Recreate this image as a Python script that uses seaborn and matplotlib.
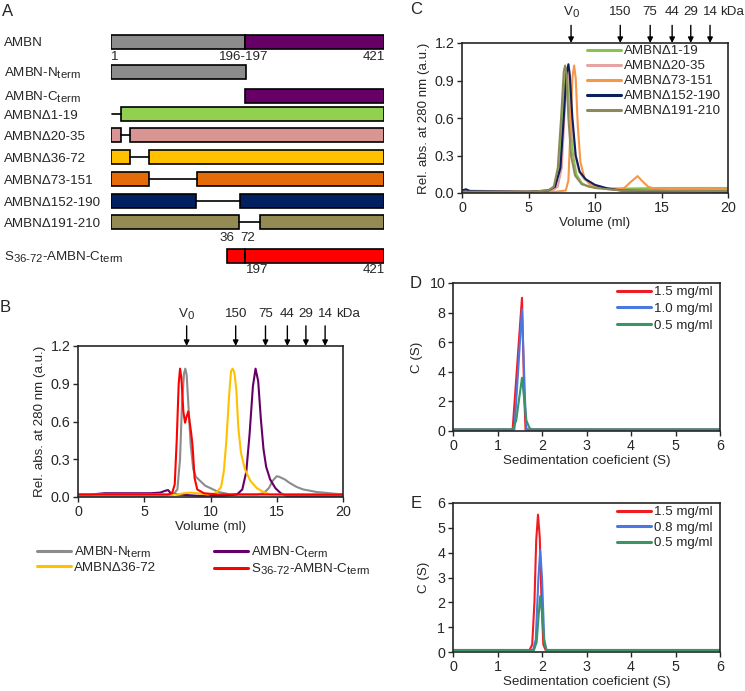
import numpy as np
import pandas as pd
import matplotlib
matplotlib.use("Agg")
import matplotlib.pyplot as plt
import matplotlib._mathtext as mathtext_internal
import seaborn as sns
from matplotlib.lines import Line2D
from matplotlib.transforms import blended_transform_factory

# subscripts in the original are only slightly smaller than the main text
mathtext_internal.SHRINK_FACTOR = 0.85

sns.set_theme(style="ticks")
FS = 9.6
TS = 10.3
plt.rcParams["font.family"] = ["Liberation Sans", "DejaVu Sans"]
plt.rcParams["mathtext.fontset"] = "custom"
plt.rcParams["mathtext.rm"] = "Liberation Sans"
plt.rcParams["mathtext.it"] = "Liberation Sans"
plt.rcParams["font.size"] = FS
plt.rcParams["axes.labelsize"] = FS
plt.rcParams["legend.fontsize"] = FS
plt.rcParams["xtick.labelsize"] = TS
plt.rcParams["ytick.labelsize"] = TS
plt.rcParams["axes.linewidth"] = 1.2
plt.rcParams["xtick.major.size"] = 3.5
plt.rcParams["ytick.major.size"] = 3.5
plt.rcParams["xtick.major.width"] = 1.0
plt.rcParams["ytick.major.width"] = 1.0
plt.rcParams["xtick.major.pad"] = 2
plt.rcParams["ytick.major.pad"] = 2

# ---------------- panel A: constructs (residue positions as drawn) -------------
a_labels = ["AMBN", "AMBN-N$_{\\rm term}$", "AMBN-C$_{\\rm term}$", "AMBNΔ1-19",
            "AMBNΔ20-35", "AMBNΔ36-72", "AMBNΔ73-151", "AMBNΔ152-190",
            "AMBNΔ191-210", "S$_{\\rm 36\\text{-}72}$-AMBN-C$_{\\rm term}$"]
a_bar_start = [[1, 207], [1], [207], [16], [1, 30], [1, 59.5], [1, 134], [1, 199.5], [1, 230], [179, 207]]
a_bar_end = [[207, 421], [208], [421], [421], [16, 421], [30, 421], [59, 421], [132, 421], [198, 421], [207, 421]]
a_gap = [None, None, None, (2, 16), (16, 30), (30, 59.5), (59, 134), (132, 199.5), (198, 230), None]
a_colors = ["#8c8c8c", "#8c8c8c", "#660066", "#92d050", "#d99594", "#ffc000",
            "#e36c09", "#002060", "#948a54", "#ff0000"]
gray_purple = ["#8c8c8c", "#660066"]

# ---------------- panel B: SEC traces ------------------------------------------
b_gray_v = [0, 2, 5, 6.5, 7.2, 7.5, 7.7, 7.85, 8.0, 8.1, 8.2, 8.35, 8.5, 8.7, 8.9, 9.2, 9.6, 10.0,
            10.6, 11.5, 12.5, 13.5, 14.0, 14.4, 14.7, 15.0, 15.2, 15.6, 16.0, 16.5, 17.0, 18.0, 19.0, 20]
b_gray_a = [0.01, 0.01, 0.01, 0.01, 0.02, 0.06, 0.3, 0.75, 0.98, 1.02, 0.97, 0.7, 0.42, 0.22, 0.16, 0.13,
            0.09, 0.07, 0.04, 0.02, 0.02, 0.02, 0.03, 0.07, 0.13, 0.165, 0.16, 0.14, 0.11, 0.08, 0.06, 0.04, 0.03, 0.02]
b_purple_v = [0, 1, 2, 3, 4.5, 5.5, 6.2, 6.6, 6.8, 7.0, 7.5, 9, 11, 12.0, 12.4, 12.7, 12.95, 13.2, 13.4,
              13.6, 13.8, 14.0, 14.2, 14.5, 14.9, 15.3, 15.7, 20]
b_purple_a = [0.02, 0.02, 0.03, 0.03, 0.03, 0.03, 0.035, 0.05, 0.055, 0.03, 0.02, 0.01, 0.01, 0.02, 0.06,
              0.2, 0.5, 0.88, 1.02, 0.92, 0.62, 0.38, 0.24, 0.14, 0.07, 0.03, 0.01, 0.01]
b_yellow_v = [0, 6, 7.5, 8.0, 8.5, 9.0, 9.8, 10.4, 10.8, 11.0, 11.2, 11.4, 11.55, 11.67, 11.8, 11.95,
              12.1, 12.3, 12.6, 13.0, 13.5, 14.0, 14.5, 20]
b_yellow_a = [0.02, 0.02, 0.02, 0.03, 0.035, 0.03, 0.02, 0.03, 0.08, 0.2, 0.45, 0.8, 1.0, 1.02, 0.99,
              0.85, 0.55, 0.35, 0.22, 0.13, 0.07, 0.04, 0.02, 0.02]
b_red_v = [0, 5, 6.8, 7.1, 7.3, 7.45, 7.6, 7.7, 7.8, 7.95, 8.08, 8.2, 8.32, 8.42, 8.55, 8.65, 8.8, 9.0,
           9.5, 10.5, 20]
b_red_a = [0.02, 0.02, 0.02, 0.03, 0.1, 0.45, 0.9, 1.02, 0.95, 0.68, 0.59, 0.64, 0.68, 0.6, 0.5, 0.4,
           0.15, 0.06, 0.03, 0.02, 0.02]
b_names = ["AMBN-N$_{\\rm term}$", "AMBN-C$_{\\rm term}$", "AMBNΔ36-72",
           "S$_{\\rm 36\\text{-}72}$-AMBN-C$_{\\rm term}$"]
b_colors = ["#8c8c8c", "#660066", "#ffc000", "#ff0000"]

# ---------------- panel C: SEC traces of deletion mutants -----------------------
c_green_v = [0, 5, 6.5, 7.0, 7.3, 7.55, 7.75, 7.85, 7.95, 8.15, 8.35, 8.6, 9.0, 9.5, 10.5, 12, 15, 20]
c_green_a = [0.01, 0.01, 0.02, 0.06, 0.2, 0.6, 0.95, 1.0, 0.95, 0.6, 0.3, 0.15, 0.08, 0.05, 0.04, 0.035, 0.04, 0.04]
c_pink_v = [0, 5, 6.8, 7.2, 7.5, 7.7, 7.85, 7.95, 8.05, 8.25, 8.5, 8.8, 9.2, 10, 11, 12, 20]
c_pink_a = [0.02, 0.01, 0.02, 0.05, 0.2, 0.6, 0.92, 1.0, 0.93, 0.6, 0.3, 0.17, 0.11, 0.06, 0.03, 0.02, 0.02]
c_orange_v = [0, 5, 7.0, 7.8, 8.0, 8.15, 8.3, 8.43, 8.55, 8.7, 8.9, 9.2, 9.6, 10.5, 11.5, 12.2, 12.6,
              13.2, 13.6, 14.0, 14.5, 20]
c_orange_a = [0.01, 0.01, 0.01, 0.02, 0.1, 0.5, 0.92, 1.02, 0.92, 0.55, 0.25, 0.12, 0.07, 0.04, 0.03,
              0.04, 0.08, 0.135, 0.09, 0.05, 0.035, 0.03]
c_navy_v = [0, 0.3, 0.6, 5, 6.5, 7.0, 7.4, 7.65, 7.85, 8.0, 8.1, 8.3, 8.55, 8.85, 9.3, 10, 11, 12, 20]
c_navy_a = [0.02, 0.03, 0.015, 0.01, 0.02, 0.05, 0.2, 0.6, 0.95, 1.03, 0.95, 0.6, 0.3, 0.17, 0.11,
            0.065, 0.035, 0.02, 0.01]
c_olive_v = [0, 5, 6.5, 6.9, 7.2, 7.45, 7.65, 7.75, 7.85, 8.0, 8.2, 8.5, 9.0, 10, 12, 20]
c_olive_a = [0.01, 0.01, 0.02, 0.05, 0.2, 0.6, 0.97, 1.02, 0.95, 0.6, 0.3, 0.14, 0.07, 0.04, 0.02, 0.015]
c_names = ["AMBNΔ1-19", "AMBNΔ20-35", "AMBNΔ73-151", "AMBNΔ152-190", "AMBNΔ191-210"]
c_colors = ["#8cc152", "#e6a3a3", "#f79646", "#0d1f5c", "#8c8a5c"]

# standards (elution volume, label)
std_vol = [8.2, 11.9, 14.15, 15.8, 17.2, 18.65]
std_lab = ["V$_0$", "150", "75", "44", "29", "14"]

# ---------------- panels D, E: sedimentation velocity ----------------------------
d_names = ["1.5 mg/ml", "1.0 mg/ml", "0.5 mg/ml"]
d_red_s = [0, 1.34, 1.55, 1.6, 1.63, 6]
d_red_c = [0.1, 0.1, 9.0, 2.5, 0.1, 0.1]
d_blue_s = [0, 1.38, 1.55, 1.62, 1.65, 6]
d_blue_c = [0.1, 0.1, 8.2, 2.0, 0.1, 0.1]
d_green_s = [0, 1.34, 1.42, 1.55, 1.65, 1.72, 1.78, 6]
d_green_c = [0.1, 0.1, 0.7, 3.6, 0.7, 0.2, 0.1, 0.1]

e_names = ["1.5 mg/ml", "0.8 mg/ml", "0.5 mg/ml"]
e_red_s = [0, 1.72, 1.78, 1.83, 1.87, 1.91, 1.95, 1.99, 2.03, 2.08, 6]
e_red_c = [0.08, 0.08, 0.3, 2.0, 4.5, 5.53, 4.6, 2.0, 0.3, 0.08, 0.08]
e_blue_s = [0, 1.8, 1.86, 1.92, 1.96, 2.0, 2.05, 2.1, 6]
e_blue_c = [0.08, 0.08, 0.5, 3.0, 4.1, 3.0, 0.5, 0.08, 0.08]
e_green_s = [0, 1.82, 1.88, 1.93, 1.96, 2.0, 2.05, 2.1, 6]
e_green_c = [0.08, 0.08, 0.4, 1.6, 2.25, 1.6, 0.4, 0.08, 0.08]
de_colors = ["#f01c24", "#4a78e0", "#3a9466"]

LW = 1.5
W, H = 745, 691
fig = plt.figure(figsize=(W / 100, H / 100), dpi=100)


def px_axes(x0, y0, x1, y1):
    return fig.add_axes([x0 / W, 1 - y1 / H, (x1 - x0) / W, (y1 - y0) / H])


def panel_letter(x, y, s):
    fig.text(x / W, 1 - y / H, s, fontsize=12, ha="center", va="center")


# ---- A ----
axA = px_axes(111, 0, 384, 280)
axA.set_xlim(1, 421)
axA.set_ylim(280, 0)
axA.axis("off")
rows = [41.5, 72, 96, 114, 135, 157, 179, 201, 222, 256]
lab_tr = blended_transform_factory(fig.transFigure, axA.transData)
for i, lab in enumerate(a_labels):
    y = rows[i]
    for j, (s, e) in enumerate(zip(a_bar_start[i], a_bar_end[i])):
        col = gray_purple[j] if i == 0 else a_colors[i]
        axA.barh(y, e - s, left=s, height=14, color=col, edgecolor="black", linewidth=1.2)
    if a_gap[i] is not None:
        axA.plot(a_gap[i], [y, y], color="black", lw=1.2)
    # baseline placed so the capitals sit centred on the bar
    axA.text(4 / W, y + 4.8, lab, transform=lab_tr, ha="left", va="baseline")
axA.text(1, 57, "1", ha="left", va="center")
axA.text(205, 57, "196-197", ha="center", va="center")
axA.text(422, 57, "421", ha="right", va="center")
axA.text(179, 238, "36", ha="center", va="center")
axA.text(211, 238, "72", ha="center", va="center")
axA.text(208, 270, "197", ha="left", va="center")
axA.text(422, 270, "421", ha="right", va="center")
panel_letter(8, 12, "A")


def sec_axes(ax, arrow_len, lab_off, kda_off):
    ax.set_xlim(0, 20)
    ax.set_ylim(0, 1.2)
    ax.set_xticks([0, 5, 10, 15, 20])
    ax.set_yticks([0, 0.3, 0.6, 0.9, 1.2])
    ax.set_yticklabels(["0.0", "0.3", "0.6", "0.9", "1.2"])
    ax.set_xlabel("Volume (ml)", labelpad=2)
    ax.set_ylabel("Rel. abs. at 280 nm (a.u.)", labelpad=3)
    tr = ax.get_xaxis_transform()
    for v, lab in zip(std_vol, std_lab):
        ax.annotate("", xy=(v, 1), xycoords=tr, xytext=(0, arrow_len), textcoords="offset points",
                    arrowprops=dict(arrowstyle="-|>", color="black", lw=1, shrinkA=0, shrinkB=0,
                                    mutation_scale=8), annotation_clip=False)
        ax.annotate(lab, xy=(v, 1), xycoords=tr, xytext=(0, lab_off), textcoords="offset points",
                    ha="center", va="center", annotation_clip=False)
    ax.annotate("kDa", xy=(std_vol[-1], 1), xycoords=tr, xytext=(kda_off, lab_off),
                textcoords="offset points", ha="left", va="center", annotation_clip=False)


# ---- B ----
axB = px_axes(78, 346, 343, 497)
b_data = [(b_gray_v, b_gray_a), (b_purple_v, b_purple_a), (b_yellow_v, b_yellow_a), (b_red_v, b_red_a)]
for (v, a), name, col in zip(b_data, b_names, b_colors):
    df = pd.DataFrame({"vol": v, "abs": a})
    sns.lineplot(data=df, x="vol", y="abs", ax=axB, color=col, lw=LW, sort=False, estimator=None)
sec_axes(axB, 14.5, 23, 8)
panel_letter(5, 307, "B")
hB = [Line2D([], [], color=c, lw=2.2) for c in b_colors]
order = [0, 2, 1, 3]
fig.legend([hB[k] for k in order], [b_names[k] for k in order], ncol=2, frameon=False,
           loc="upper left", bbox_to_anchor=(37 / W, 1 - 545 / H), handlelength=2.55,
           handletextpad=0.25, columnspacing=4.3, labelspacing=0.12, borderpad=0, borderaxespad=0)

# ---- C ----
axC = px_axes(462, 43, 728, 193)
c_data = [(c_green_v, c_green_a), (c_pink_v, c_pink_a), (c_orange_v, c_orange_a),
          (c_navy_v, c_navy_a), (c_olive_v, c_olive_a)]
for (v, a), name, col in zip(c_data, c_names, c_colors):
    df = pd.DataFrame({"vol": v, "abs": a})
    sns.lineplot(data=df, x="vol", y="abs", ax=axC, color=col, lw=LW, sort=False, estimator=None)
sec_axes(axC, 12.7, 22, 7)
panel_letter(416, 9, "C")
hC = [Line2D([], [], color=c, lw=2.2) for c in c_colors]
fig.legend(hC, c_names, frameon=False, loc="upper left", bbox_to_anchor=(587 / W, 1 - 45 / H),
           handlelength=2.55, handletextpad=0.2, labelspacing=0.2, borderpad=0, borderaxespad=0)


def sv_axes(ax, ymax, ystep):
    ax.set_xlim(0, 6)
    ax.set_ylim(0, ymax)
    ax.set_xticks(range(0, 7))
    ax.set_yticks(np.arange(0, ymax + 0.1, ystep))
    ax.set_xlabel("Sedimentation coeficient (S)", labelpad=2)
    ax.set_ylabel("C (S)", labelpad=5)


# ---- D ----
axD = px_axes(453, 283, 720, 431)
d_data = [(d_red_s, d_red_c), (d_blue_s, d_blue_c), (d_green_s, d_green_c)]
for (s, c), col in zip(d_data, de_colors):
    df = pd.DataFrame({"s": s, "c": c})
    sns.lineplot(data=df, x="s", y="c", ax=axD, color=col, lw=LW, sort=False, estimator=None)
sv_axes(axD, 10, 2)
panel_letter(416, 283, "D")
hD = [Line2D([], [], color=c, lw=2.2) for c in de_colors]
fig.legend(hD, d_names, frameon=False, loc="upper left", bbox_to_anchor=(617 / W, 1 - 286 / H),
           handlelength=2.55, handletextpad=0.2, labelspacing=0.32, borderpad=0, borderaxespad=0)

# ---- E ----
axE = px_axes(453, 503, 720, 652)
e_data = [(e_red_s, e_red_c), (e_blue_s, e_blue_c), (e_green_s, e_green_c)]
for (s, c), col in zip(e_data, de_colors):
    df = pd.DataFrame({"s": s, "c": c})
    sns.lineplot(data=df, x="s", y="c", ax=axE, color=col, lw=LW, sort=False, estimator=None)
sv_axes(axE, 6, 1)
panel_letter(416, 503, "E")
fig.legend(hD, e_names, frameon=False, loc="upper left", bbox_to_anchor=(617 / W, 1 - 506 / H),
           handlelength=2.55, handletextpad=0.2, labelspacing=0.24, borderpad=0, borderaxespad=0)

fig.savefig("out.png", dpi=100)
